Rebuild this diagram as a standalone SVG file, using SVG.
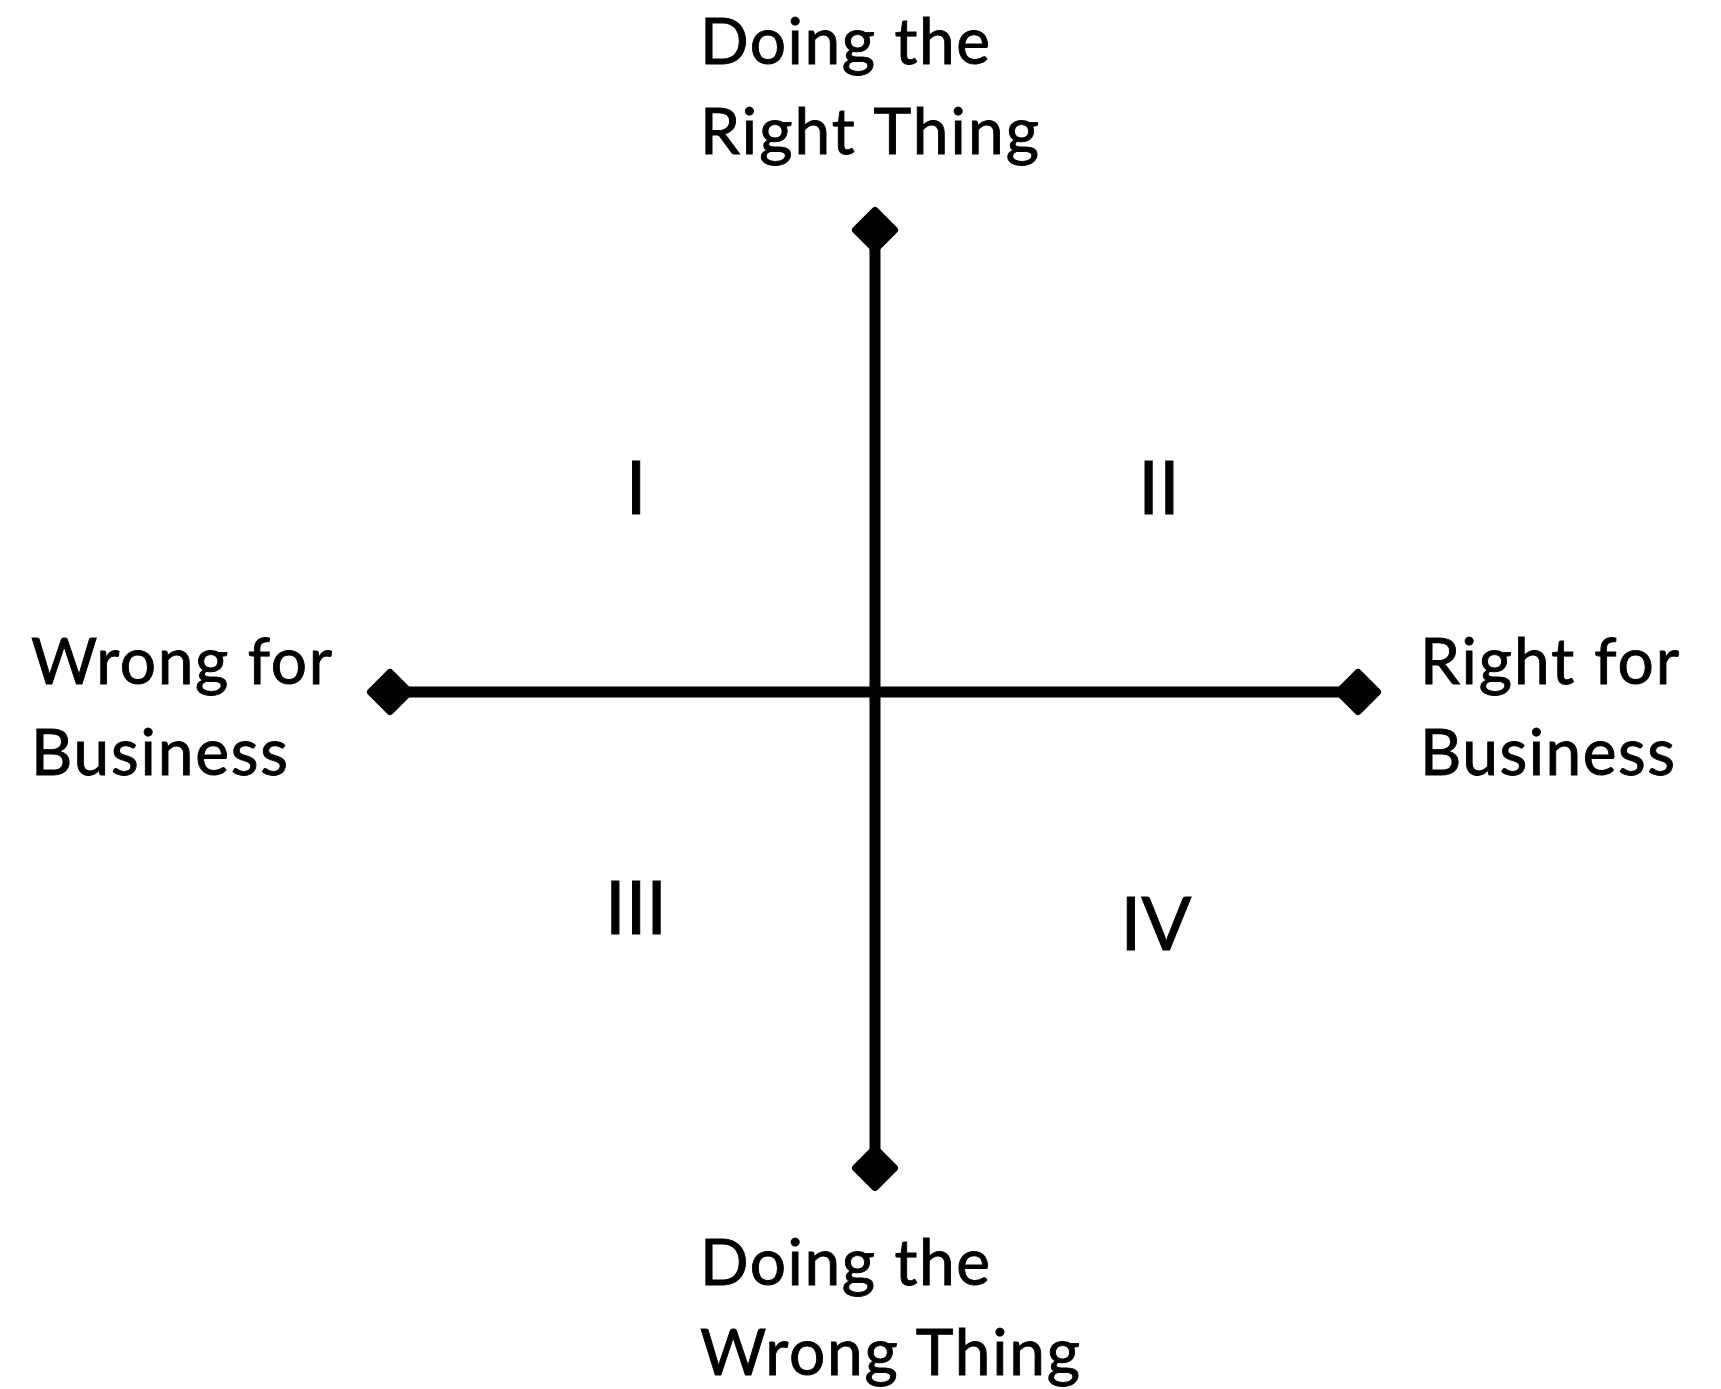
<svg xmlns="http://www.w3.org/2000/svg" width="1721" height="1389" viewBox="0 0 1721 1389">
  <style>
    .lbl { font-family: Lato, "Open Sans", "Liberation Sans", sans-serif; font-size: 64px; fill: #000; stroke: #000; stroke-width: 0.9px; }
    .num { font-family: Lato, "Open Sans", "Liberation Sans", sans-serif; font-size: 74px; fill: #000; stroke: #000; stroke-width: 1px; text-anchor: middle; }
    .axis { stroke: #000; stroke-width: 11; fill: none; marker-start: url(#dia); marker-end: url(#dia); }
  </style>
  <defs>
    <marker id="dia" markerUnits="userSpaceOnUse" viewBox="-26 -26 52 52" markerWidth="52" markerHeight="52" refX="0" refY="0" orient="auto">
      <path d="M -19 0 L 0 -19 L 19 0 L 0 19 Z" fill="#000" stroke="#000" stroke-width="8" stroke-linejoin="round"/>
    </marker>
  </defs>
  <rect width="1721" height="1389" fill="#fff"/>
  <g id="connectors">
    <line class="axis" x1="875" y1="230" x2="875" y2="1168"/>
    <line class="axis" x1="390" y1="692" x2="1358" y2="692"/>
  </g>
  <g id="top-label">
    <text class="lbl" x="700" y="64" textLength="290">Doing the</text>
    <text class="lbl" x="700" y="154" textLength="339">Right Thing</text>
  </g>
  <g id="left-label">
    <text class="lbl" x="31" y="684" textLength="301">Wrong for</text>
    <text class="lbl" x="31" y="775" textLength="257">Business</text>
  </g>
  <g id="right-label">
    <text class="lbl" x="1420" y="684" textLength="259">Right for</text>
    <text class="lbl" x="1420" y="775" textLength="255">Business</text>
  </g>
  <g id="bottom-label">
    <text class="lbl" x="700" y="1285" textLength="290">Doing the</text>
    <text class="lbl" x="700" y="1375" textLength="380">Wrong Thing</text>
  </g>
  <g id="quadrant-I"><text class="num" x="636" y="514">I</text></g>
  <g id="quadrant-II"><text class="num" x="1159" y="514">II</text></g>
  <g id="quadrant-III"><text class="num" x="636" y="934">III</text></g>
  <g id="quadrant-IV"><text class="num" x="1156" y="950">IV</text></g>
</svg>
